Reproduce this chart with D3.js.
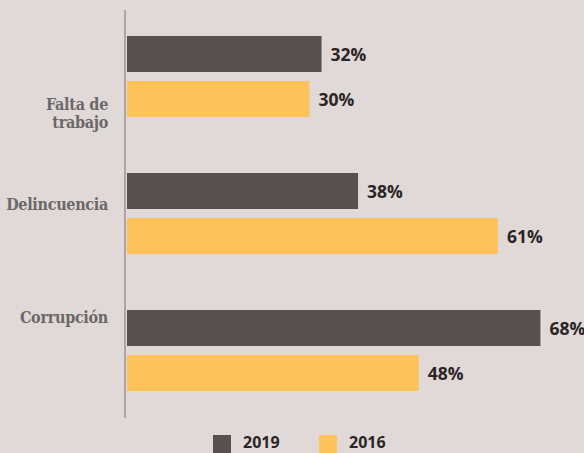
<!DOCTYPE html>
<html><head><meta charset="utf-8">
<script src="https://cdn.jsdelivr.net/npm/d3@7/dist/d3.min.js"></script>
<style>
html,body{margin:0;padding:0;background:#e0d9d7;}
svg{display:block;}
</style></head>
<body>
<script>
const categories = [["Falta de","trabajo"],["Delincuencia"],["Corrupción"]];
const seriesNames = ["2019","2016"];
const values2019 = [32,38,68];
const values2016 = [30,61,48];
const colors = ["#5a4f4f","#fec25b"];

const W=584,H=453;
const svg=d3.select("body").append("svg").attr("width",W).attr("height",H);
svg.append("rect").attr("width",W).attr("height",H).attr("fill","#e0d9d7");

const x=d3.scaleLinear().domain([0,100]).range([127,735]);
const y=d3.scaleBand().domain(d3.range(categories.length)).range([36,447]).padding(0);
const barH=36, innerGap=9;

const data=[];
categories.forEach((c,i)=>{
  data.push({cat:i,s:0,v:values2019[i]});
  data.push({cat:i,s:1,v:values2016[i]});
});
const yb=d=>y(d.cat)+d.s*(barH+innerGap);

svg.selectAll("rect.bar").data(data).enter().append("rect")
 .attr("class","bar")
 .attr("x",x(0)).attr("y",yb).attr("width",d=>x(d.v)-x(0)).attr("height",barH)
 .attr("fill",d=>colors[d.s]);

svg.selectAll("text.val").data(data).enter().append("text")
 .attr("x",d=>x(d.v)+9).attr("y",d=>yb(d)+barH/2+7)
 .attr("font-family","'Open Sans', 'DejaVu Sans', sans-serif")
 .attr("font-weight","bold").attr("font-size",17.5).attr("fill","#2b2526")
 .text(d=>d.v+"%");

// axis line
svg.append("line").attr("x1",125).attr("x2",125).attr("y1",10).attr("y2",418)
 .attr("stroke","#aaa5a4").attr("stroke-width",2);

// category labels
const labelY=[110,210,323];
categories.forEach((lines,i)=>{
  lines.forEach((l,j)=>{
    svg.append("text").attr("text-anchor","end")
     .attr("font-family","'DejaVu Serif', serif").attr("font-weight","bold")
     .attr("font-stretch","condensed")
     .attr("font-size",16).attr("fill","#6b6869").attr("letter-spacing","-0.3")
     .attr("x",108).attr("y",labelY[i]+j*18).text(l);
  });
});

// legend
const legX=[213,319];
seriesNames.forEach((n,i)=>{
  svg.append("rect").attr("x",legX[i]).attr("y",435).attr("width",18).attr("height",18).attr("fill",colors[i]);
  svg.append("text").attr("x",legX[i]+30).attr("y",448)
   .attr("font-family","'Open Sans', 'DejaVu Sans', sans-serif").attr("font-weight","bold")
   .attr("font-size",16).attr("fill","#2b2526").text(n);
});
</script>
</body></html>
